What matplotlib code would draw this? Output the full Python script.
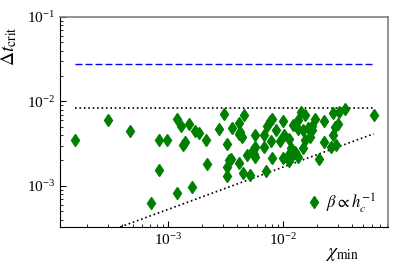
#!/usr/bin/env python3

import matplotlib
matplotlib.use('Agg')
import matplotlib.pyplot as plt

plt.rcParams['font.family'] = ['Liberation Serif', 'DejaVu Serif']
plt.rcParams['mathtext.fontset'] = 'stix'

# chi_min and critical time step
chi_min = [1.55e-4, 2.99e-4, 4.68e-4, 8.40e-4, 9.80e-4, 8.30e-4, 7.11e-4,
           1.19e-3, 1.30e-3, 1.53e-3, 1.72e-3, 1.87e-3, 1.41e-3, 1.36e-3,
           2.14e-3, 3.09e-3, 2.76e-3, 3.60e-3, 4.12e-3, 4.12e-3, 3.24e-3,
           2.20e-3, 3.41e-3, 3.28e-3, 4.17e-3, 3.28e-3, 4.52e-3, 5.22e-3,
           4.89e-3, 5.71e-3, 5.52e-3, 6.88e-3, 7.21e-3, 1.20e-3, 1.61e-3,
           4.61e-3, 4.23e-3, 4.43e-3, 5.71e-3, 7.71e-3, 7.30e-3, 6.88e-3,
           8.81e-3, 7.82e-3, 1.01e-2, 1.03e-2, 9.42e-3, 1.23e-2, 1.36e-2,
           1.13e-2, 1.19e-2, 1.23e-2, 5.71e-3, 8.13e-3, 1.00e-2, 3.58e-3,
           1.13e-2, 1.45e-2, 1.55e-2, 1.90e-2, 2.74e-2, 3.09e-2, 3.48e-2,
           6.18e-2, 2.29e-2, 1.27e-2, 1.36e-2, 1.50e-2, 1.66e-2, 1.78e-2,
           1.81e-2, 3.03e-2, 2.83e-2, 2.74e-2, 1.74e-2, 1.55e-2, 1.50e-2,
           2.29e-2, 2.65e-2, 2.93e-2, 1.27e-2, 1.36e-2, 2.08e-2, 5.60e-3,
           1.13e-2, 8.13e-3]
dt_crit = [3.45e-3, 6.01e-3, 4.50e-3, 3.45e-3, 3.52e-3, 1.56e-3, 6.33e-4,
           6.24e-3, 5.10e-3, 5.39e-3, 4.42e-3, 4.18e-3, 3.30e-3, 3.07e-3,
           3.52e-3, 7.08e-3, 4.75e-3, 4.83e-3, 5.49e-3, 4.15e-3, 3.16e-3,
           1.83e-3, 2.04e-3, 1.67e-3, 1.89e-3, 1.30e-3, 1.43e-3, 1.35e-3,
           2.30e-3, 2.19e-3, 2.63e-3, 2.88e-3, 1.50e-3, 8.22e-4, 9.68e-4,
           6.96e-3, 4.33e-3, 3.78e-3, 3.96e-3, 5.80e-3, 5.10e-3, 4.04e-3,
           4.54e-3, 3.36e-3, 5.80e-3, 4.04e-3, 3.36e-3, 5.30e-3, 5.96e-3,
           3.62e-3, 2.82e-3, 2.40e-3, 2.88e-3, 2.12e-3, 2.12e-3, 2.10e-3,
           1.95e-3, 7.47e-3, 6.96e-3, 6.24e-3, 7.35e-3, 7.47e-3, 8.04e-3,
           6.96e-3, 5.80e-3, 5.20e-3, 4.75e-3, 4.54e-3, 4.83e-3, 5.10e-3,
           4.54e-3, 5.45e-3, 4.96e-3, 4.04e-3, 3.78e-3, 3.45e-3, 2.83e-3,
           3.30e-3, 2.88e-3, 3.07e-3, 2.51e-3, 2.19e-3, 2.06e-3, 2.40e-3,
           2.40e-3, 6.24e-3]

# reference lines
line_chi = [1.55e-4, 6.18e-2]
dt_dashed = [2.79e-2, 2.79e-2]
dt_dotted = [8.33e-3, 8.33e-3]
dt_diag = [2.07e-4, 4.14e-3]

fig = plt.figure(figsize=(3.99, 2.66), dpi=100)
ax = fig.add_axes([0.150, 0.147, 0.822, 0.789])

ax.plot(line_chi, dt_dashed, '--', color='blue', linewidth=1.0, dashes=(5, 2.2))
ax.plot(line_chi, dt_dotted, ':', color='black', linewidth=1.2)
ax.plot(line_chi, dt_diag, ':', color='black', linewidth=1.2)
ax.plot(chi_min, dt_crit, 'd', color='green', markersize=6.5,
        linestyle='none', label=r'$\beta\propto h_c^{-1}$')

ax.set_xscale('log')
ax.set_yscale('log')
ax.set_xlim(1.15e-4, 8.2e-2)
ax.set_ylim(3.27e-4, 1e-1)

ax.tick_params(which='both', direction='in', labelsize=11, top=False, right=False)
ax.tick_params(which='major', length=4)
ax.tick_params(which='minor', length=2)

for s in ('top', 'right'):
    ax.spines[s].set_color('gray')
    ax.spines[s].set_linewidth(1.2)

ax.set_xlabel(r'$\chi_{\mathrm{min}}$', fontsize=14)
ax.xaxis.set_label_coords(0.86, -0.09)
ax.set_ylabel(r'$\Delta t_{\mathrm{crit}}$', fontsize=14)
ax.yaxis.set_label_coords(-0.125, 0.86)

ax.legend(loc='lower right', frameon=False, numpoints=1, fontsize=12,
          handletextpad=0.1, handlelength=1.2, borderaxespad=0.3)

fig.savefig('out.png', dpi=100)
